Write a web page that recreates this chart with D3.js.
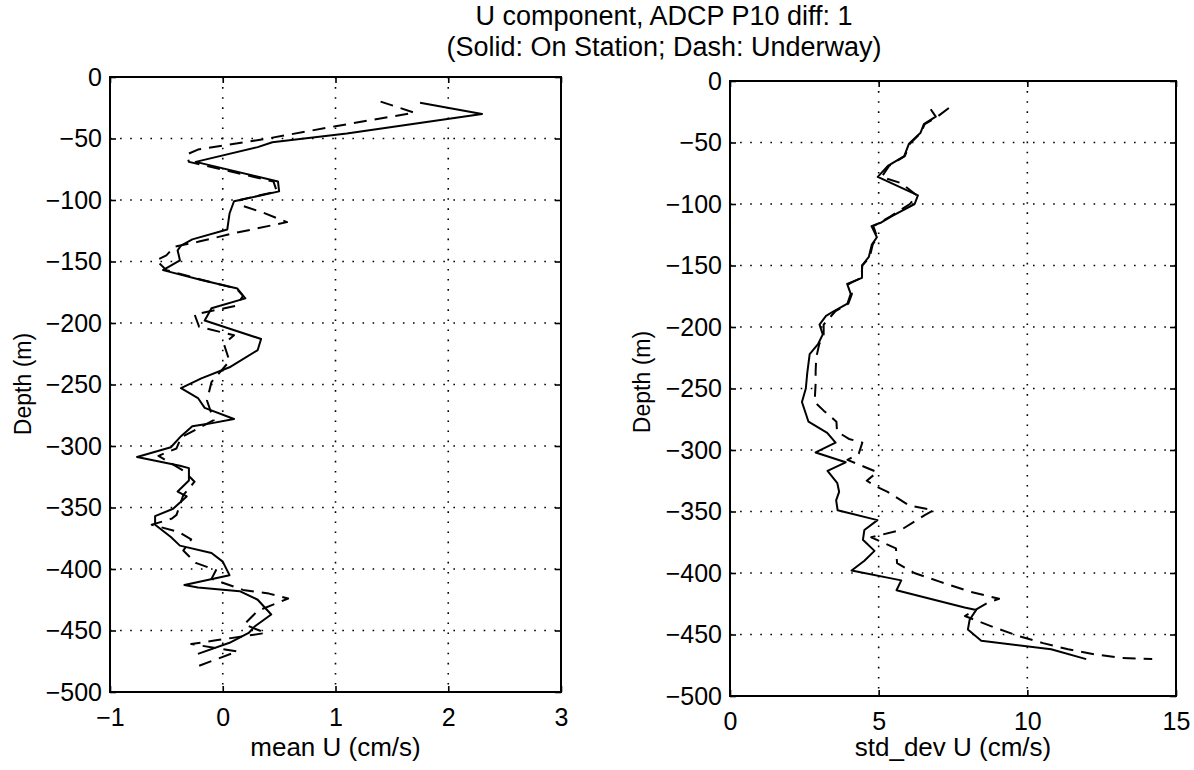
<!DOCTYPE html>
<html><head><meta charset="utf-8">
<script src="https://cdn.jsdelivr.net/npm/d3@7"></script>
<style>
body{margin:0;background:#fff}
svg{display:block}
text{font-family:"Liberation Sans",Arial,Helvetica,sans-serif;fill:#000}
</style>
</head><body>
<svg id="chart" width="1194" height="770"></svg>
<script>
// ---------------- data ----------------
const titleLines = ["U component, ADCP P10 diff: 1", "(Solid: On Station; Dash: Underway)"];
const depthTicks = [0, -50, -100, -150, -200, -250, -300, -350, -400, -450, -500];
const meanTicks = [-1, 0, 1, 2, 3];
const stdTicks = [0, 5, 10, 15];
const yLabel = "Depth (m)";
const meanLabel = "mean U (cm/s)";
const stdLabel = "std_dev U (cm/s)";

// mean U, on station (solid)
const meanSolidDepth = [-21,-30,-46,-53,-57,-69,-85,-93,-101,-111,-124,-132,-137,-141,-149,-157,-165,-172,-180,-188,-198,-213,-222,-236,-245,-253,-261,-269,-278,-282,-284,-292,-301,-309,-316,-318,-328,-337,-341,-351,-357,-364,-374,-381,-387,-394,-405,-413,-415,-418,-425,-437,-447,-452,-460,-469];
const meanSolidU     = [1.75,2.30,1.10,0.44,0.31,-0.24,0.49,0.50,0.10,0.06,0.04,-0.27,-0.37,-0.40,-0.38,-0.53,-0.19,0.13,0.20,-0.10,-0.16,0.34,0.31,0.06,-0.19,-0.37,-0.22,-0.16,0.10,-0.13,-0.27,-0.37,-0.46,-0.76,-0.38,-0.30,-0.30,-0.40,-0.32,-0.44,-0.60,-0.60,-0.46,-0.38,-0.10,0.00,0.06,-0.34,-0.22,0.15,0.31,0.43,0.28,0.23,0.06,-0.22];

// mean U, underway (dash)
const meanDashDepth = [-20,-29,-40,-50,-59,-63,-69,-85,-93,-100,-104,-110,-118,-127,-134,-138,-145,-149,-157,-165,-172,-178,-186,-193,-203,-210,-217,-231,-248,-263,-279,-293,-302,-308,-320,-329,-340,-356,-359,-364,-370,-376,-385,-395,-401,-408,-417,-420,-424,-434,-445,-452,-458,-461,-467,-479];
const meanDashU     = [1.40,1.70,1.00,0.40,-0.22,-0.32,-0.30,0.45,0.48,0.15,0.15,0.35,0.57,0.10,-0.22,-0.43,-0.50,-0.59,-0.50,-0.18,0.12,0.18,0.12,-0.25,-0.21,0.10,0.01,0.06,-0.10,-0.14,-0.08,-0.37,-0.41,-0.57,-0.35,-0.25,-0.35,-0.41,-0.45,-0.63,-0.39,-0.28,-0.35,-0.24,-0.06,-0.10,0.18,0.41,0.58,0.31,0.19,0.38,-0.06,-0.28,0.13,-0.22];

// std_dev U, on station (solid)
const stdSolidDepth = [-23,-29,-35,-42,-51,-61,-69,-78,-93,-100,-110,-115,-118,-127,-133,-143,-150,-160,-165,-173,-181,-187,-191,-198,-206,-214,-222,-237,-250,-261,-277,-286,-294,-302,-310,-317,-327,-334,-341,-349,-357,-365,-373,-382,-390,-398,-406,-414,-428,-430,-438,-446,-455,-462,-470];
const stdSolidU     = [6.75,6.92,6.52,6.41,6.02,5.86,5.31,4.97,6.32,6.21,5.43,5.09,4.76,4.94,4.77,4.67,4.44,4.44,3.94,4.06,3.95,3.50,3.23,3.01,3.12,2.96,2.68,2.60,2.55,2.42,2.64,3.27,3.55,2.88,3.89,3.28,3.61,3.67,3.57,3.62,4.96,4.52,4.47,4.86,4.52,4.09,5.76,5.60,7.89,8.28,8.06,8.00,8.45,10.80,11.98];

// std_dev U, underway (dash)
const stdDashDepth = [-22,-30,-35,-42,-51,-61,-69,-78,-83,-93,-100,-110,-118,-127,-133,-143,-150,-160,-165,-173,-181,-187,-198,-206,-214,-225,-236,-246,-255,-261,-268,-277,-285,-291,-294,-303,-308,-314,-318,-325,-330,-334,-345,-349,-353,-365,-371,-380,-392,-400,-407,-415,-421,-424,-435,-444,-451,-457,-462,-466,-469,-470];
const stdDashU     = [7.36,6.92,6.55,6.42,6.05,5.88,5.35,5.10,5.75,6.28,6.05,5.40,4.82,4.95,4.80,4.70,4.45,4.42,4.00,4.10,3.98,3.55,3.15,3.15,3.00,2.90,2.88,2.88,2.86,2.85,3.15,3.58,3.60,4.00,4.45,4.33,3.95,4.55,4.95,4.60,4.95,5.30,6.02,6.85,6.55,5.75,4.75,5.58,5.62,6.20,7.05,8.05,9.05,8.68,7.90,8.86,9.67,10.53,11.37,12.24,13.14,14.20];

// ---------------- drawing ----------------
const svg = d3.select("#chart");
const fmt = d => d < 0 ? "\u2212" + Math.abs(d) : String(d);

svg.append("text").attr("x", 664).attr("y", 25).attr("text-anchor", "middle")
  .style("font-size", "27px").text(titleLines[0]);
svg.append("text").attr("x", 664).attr("y", 55.5).attr("text-anchor", "middle")
  .style("font-size", "27px").text(titleLines[1]);

function panel(cfg) {
  const x = d3.scaleLinear().domain(cfg.xDomain).range([cfg.x0, cfg.x1]);
  const y = d3.scaleLinear().domain([-500, 0]).range([cfg.y1, cfg.y0]);
  const g = svg.append("g");

  // dotted grid
  const grid = g.append("g").attr("stroke", "#000").attr("stroke-width", 1.6)
    .attr("stroke-dasharray", "1.6,8.5").attr("fill", "none");
  cfg.xTicks.slice(1, -1).forEach(t => {
    grid.append("line").attr("x1", x(t)).attr("x2", x(t)).attr("y1", cfg.y0).attr("y2", cfg.y1);
  });
  depthTicks.slice(1, -1).forEach(t => {
    grid.append("line").attr("x1", cfg.x0).attr("x2", cfg.x1).attr("y1", y(t)).attr("y2", y(t));
  });

  // axes with inward ticks
  const styleAxis = (sel, fs) => {
    sel.select(".domain").remove();
    sel.selectAll(".tick line").attr("stroke", "#000").attr("stroke-width", 1.6);
    sel.selectAll(".tick text").style("font-size", fs).attr("fill", "#000");
  };
  g.append("g").attr("transform", `translate(${cfg.x0},0)`)
    .call(d3.axisLeft(y).tickValues(depthTicks).tickSize(-6).tickPadding(8).tickFormat(fmt))
    .call(s => styleAxis(s, "25px")).attr("font-family", null);
  g.append("g").attr("transform", `translate(${cfg.x1},0)`)
    .call(d3.axisRight(y).tickValues(depthTicks).tickSize(-6).tickFormat(""))
    .call(s => styleAxis(s, "25px"));
  g.append("g").attr("transform", `translate(0,${cfg.y1})`)
    .call(d3.axisBottom(x).tickValues(cfg.xTicks).tickSize(-6).tickPadding(16).tickFormat(fmt))
    .call(s => styleAxis(s, "25px")).attr("font-family", null);
  g.append("g").attr("transform", `translate(0,${cfg.y0})`)
    .call(d3.axisTop(x).tickValues(cfg.xTicks).tickSize(-6).tickFormat(""))
    .call(s => styleAxis(s, "25px"));

  // frame
  g.append("rect").attr("x", cfg.x0).attr("y", cfg.y0)
    .attr("width", cfg.x1 - cfg.x0).attr("height", cfg.y1 - cfg.y0)
    .attr("fill", "none").attr("stroke", "#000").attr("stroke-width", 2);

  // data lines
  const line = d3.line().x(d => x(d[1])).y(d => y(d[0]));
  g.append("path").datum(d3.zip(cfg.dashDepth, cfg.dashVal))
    .attr("d", line).attr("fill", "none").attr("stroke", "#000")
    .attr("stroke-width", 2).attr("stroke-dasharray", "13,8").attr("stroke-linejoin", "round");
  g.append("path").datum(d3.zip(cfg.solidDepth, cfg.solidVal))
    .attr("d", line).attr("fill", "none").attr("stroke", "#000")
    .attr("stroke-width", 2).attr("stroke-linejoin", "round");

  // labels
  g.append("text").attr("x", (cfg.x0 + cfg.x1) / 2).attr("y", 756)
    .attr("text-anchor", "middle").style("font-size", "26px").text(cfg.xLabel);
  g.append("text").attr("transform", `translate(${cfg.ylx},${cfg.yly}) rotate(-90)`)
    .attr("text-anchor", "middle").style("font-size", "23px").text(yLabel);
}

panel({x0: 110, x1: 561, y0: 77, y1: 692, xDomain: [-1, 3], xTicks: meanTicks,
  solidDepth: meanSolidDepth, solidVal: meanSolidU, dashDepth: meanDashDepth, dashVal: meanDashU,
  xLabel: meanLabel, ylx: 31, yly: 384});
panel({x0: 730, x1: 1176, y0: 81, y1: 696, xDomain: [0, 15], xTicks: stdTicks,
  solidDepth: stdSolidDepth, solidVal: stdSolidU, dashDepth: stdDashDepth, dashVal: stdDashU,
  xLabel: stdLabel, ylx: 650, yly: 382});
</script>
</body></html>
